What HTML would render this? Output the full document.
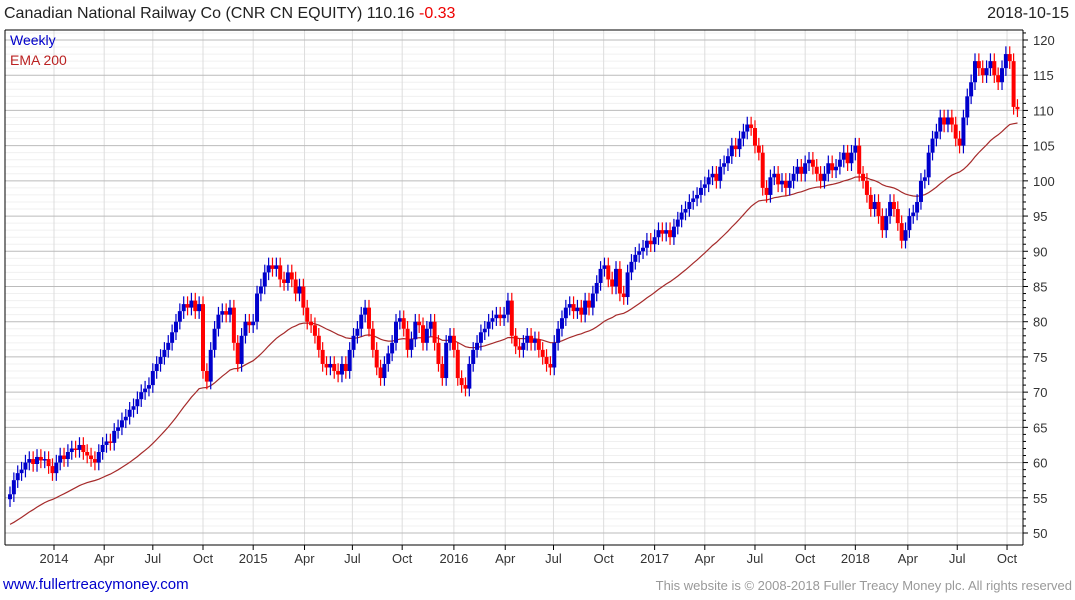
<!DOCTYPE html>
<html><head><meta charset="utf-8">
<style>
body{margin:0;width:1075px;height:600px;background:#fff;font-family:"Liberation Sans",sans-serif;overflow:hidden;position:relative}
.t{position:absolute;white-space:nowrap}
</style></head>
<body>
<div class="t" style="left:4px;top:5px;font-size:16px;color:#222">Canadian National Railway Co (CNR CN EQUITY) 110.16 <span style="color:#e00">-0.33</span></div>
<div class="t" style="right:6px;top:5px;font-size:16px;color:#222">2018-10-15</div>
<svg id="c" width="1075" height="600" style="position:absolute;left:0;top:0"></svg>
<div class="t" style="left:10px;top:32px;font-size:14px;color:#0000cc">Weekly</div>
<div class="t" style="left:10px;top:52px;font-size:14px;color:#b22">EMA 200</div>
<div class="t" style="left:3px;top:576px;font-size:15px;color:#0000cc">www.fullertreacymoney.com</div>
<div class="t" style="right:3px;top:578px;font-size:13px;color:#999">This website is © 2008-2018 Fuller Treacy Money plc. All rights reserved</div>
<script>
const closes=[55.5,57.5,58.5,59,60,60.5,59.8,60.8,60.3,60.5,
59.5,58.5,60,61,60.5,61.5,62,61.8,62.5,61.5,
61,60.5,60,61.5,62.5,63,62.8,64.5,65,66,
66.5,67.5,68,69,70,70.5,71,73,74,75,
76,77,78.5,80,81.5,82.5,82,83,81.5,82.5,
73,71.5,76,79,81,81.5,81,82,77,74,
78,80,79.5,80,84,85,87,88,87.5,88,
86,85.5,87,86,84,85,82,80,79.5,78,
76,74,73.5,74,73,72.5,74,73,76,78,
79,81,82,79,76,73.5,72,74,75.5,77,
80,80.5,79,76,77.5,80,79.5,77,79,80,
77,74,72,77,78,76,72,71,70.5,74,
76,77,78.5,79,80,80.5,81,80.5,81,83,
78,76.5,76,77,78,77,77.5,76,75,74,
73.5,77,79,80.5,82,82.5,81.5,82,81,83,
82,84,85.5,87.5,88,86,85,87.5,84,83.5,
87,88.5,89.5,90,90.5,91.5,91,92,93,92.5,
93,92,93.5,94.5,95.5,96,97,97.5,98,99,
99.5,100.5,101,100,102,102.5,103.5,105,104.5,106,
107,108,107.5,105,104,99,98,100.5,101,99.5,
100,99,100,101,102,101,102.5,103,102,101,
100,101,102.5,101.5,102,103,104,102.5,104,105,
101,100,98,96,97,95,93,95,97,96,
94,91.5,93,95,95.5,97,100,100.5,104,106,
107,109,108,109,108,106,105,109,112,114,
117,116,115,116,117,115,114,116,118,117,
110.5,110.16];
const firstOpen=54.8;
const emaSeed=51;
const yTicks=[50,55,60,65,70,75,80,85,90,95,100,105,110,115,120];
const xLabels=["2014","Apr","Jul","Oct","2015","Apr","Jul","Oct","2016","Apr","Jul","Oct","2017","Apr","Jul","Oct","2018","Apr","Jul","Oct"];
const xLabelWeeks=[11.4,24.4,37,50,63,76.3,88.7,101.6,115,128.3,140.8,153.8,167,180,193,206,219,232.6,245.4,258.3];

const NS="http://www.w3.org/2000/svg",svg=document.getElementById('c');
const L=5,R=1023,T=30,B=545;
const y=v=>533-(v-50)*7.043;
const x=i=>10+i*3.86;
function el(t,a,p){const e=document.createElementNS(NS,t);for(const k in a)e.setAttribute(k,a[k]);(p||svg).appendChild(e);return e;}
for(let v=50;v<=121;v++){if(v%5)el('line',{x1:L,x2:R,y1:y(v),y2:y(v),stroke:'#f0f0f0'});}
xLabelWeeks.forEach(w=>{const g=el('line',{x1:x(w),x2:x(w),y1:T,y2:B,stroke:'#ddd'});

});
yTicks.forEach(v=>{const g=el('line',{x1:L,x2:R,y1:y(v),y2:y(v),stroke:'#bbb'});


const t=el('text',{x:1033,y:y(v)+5,'font-size':13,fill:'#333'});t.textContent=v;


el('line',{x1:R,x2:R+5,y1:y(v),y2:y(v),stroke:'#000'});});
for(let v=50;v<=121;v++)if(v%5)el('line',{x1:R,x2:R+3,y1:y(v),y2:y(v),stroke:'#000'});
xLabels.forEach((s,k)=>{const t=el('text',{x:x(xLabelWeeks[k]),y:563,'font-size':13,fill:'#333','text-anchor':'middle'});t.textContent=s;


el('line',{x1:x(xLabelWeeks[k]),x2:x(xLabelWeeks[k]),y1:B,y2:B+5,stroke:'#000'});});
el('line',{x1:L,x2:L,y1:T,y2:B,stroke:'#000'});
el('line',{x1:L,x2:R,y1:B,y2:B,stroke:'#000'});
el('line',{x1:R,x2:R,y1:T,y2:B,stroke:'#000'});
el('line',{x1:L,x2:R,y1:T,y2:T,stroke:'#000'});
let e=emaSeed,pts=[];const a=2/41;
closes.forEach((c,i)=>{e=e+a*(c-e);pts.push(x(i).toFixed(1)+','+y(e).toFixed(1));});
const pl=el('polyline',{points:pts.join(' '),fill:'none',stroke:'#a52a2a','stroke-width':1.2});


closes.forEach((c,i)=>{const o=i?closes[i-1]:firstOpen;const col=c>=o?'#0000cc':'#ff0000';
const hi=Math.max(o,c)+1.1,lo=Math.min(o,c)-1.1;const cx=x(i);
const g=el('g',{});


el('line',{x1:cx,x2:cx,y1:y(hi),y2:y(lo),stroke:col,'stroke-width':1.2},g);
const top=y(Math.max(o,c)),h=Math.max(1.5,Math.abs(y(o)-y(c)));
el('rect',{x:cx-2,y:top,width:4,height:h,fill:col},g);});
</script>
</body></html>
